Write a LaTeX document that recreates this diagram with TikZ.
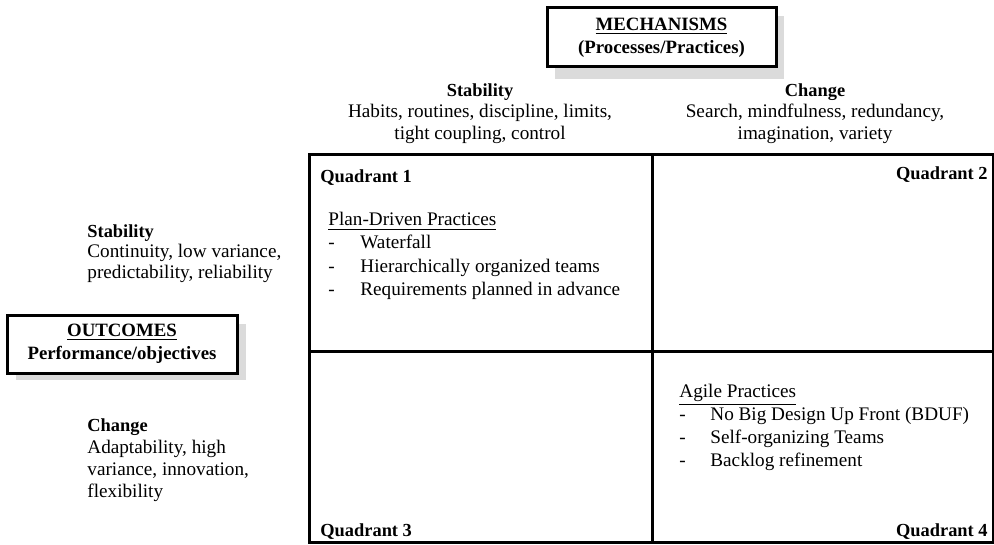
\documentclass[tikz,border=0pt]{standalone}
\usepackage{fontspec}
\setmainfont{Liberation Serif}
\usetikzlibrary{positioning}

\begin{document}
\begin{tikzpicture}[x=0.5pt,y=-0.5pt,
                    txt/.style={font=\fontsize{9.6}{11}\selectfont,inner sep=0pt},
                    head/.style={txt,font=\fontsize{9.2}{11}\selectfont\bfseries,inner sep=0pt},
                    title box/.style={draw,line width=1.5pt,fill=white,align=center,inner sep=0pt,
                                      font=\fontsize{9.4}{11.5}\selectfont\bfseries},
                    grid line/.style={line width=1.5pt}]

          \useasboundingbox (0,0) rectangle (994,545);

          % shadows
          \path[fill=gray!28] (555,16) rectangle (784,79);
          \path[fill=gray!28] (16,324) rectangle (246,380);

          \node[title box,minimum width=114.5pt,minimum height=29.5pt] (mech) at (661.5,37.5)
               {\underline{MECHANISMS}\\(Processes/Practices)};
          \node[title box,minimum width=115pt,minimum height=29pt] (outc) at (122,344)
               {\underline{OUTCOMES}\\Performance/objectives};

          % the grid
          \draw[grid line] (309,155) rectangle (993,542);
          \draw[grid line] (652,155) -- (652,542);
          \draw[grid line] (309,351) -- (993,351);

          % column heads
          \node[head,anchor=base] (cs) at (480,97) {Stability};
          \node[txt,anchor=base] (cs1) at (480,118) {Habits, routines, discipline, limits,};
          \node[txt,anchor=base] (cs2) at (480,140) {tight coupling, control};

          \node[head,anchor=base] (cc) at (815,97) {Change};
          \node[txt,anchor=base] (cc1) at (815,118) {Search, mindfulness, redundancy,};
          \node[txt,anchor=base] (cc2) at (815,140) {imagination, variety};

          % row heads
          \node[head,anchor=base west] (rs) at (87,237) {Stability};
          \node[txt,anchor=base west] (rs1) at (87,257) {Continuity, low variance,};
          \node[txt,anchor=base west] (rs2) at (87,278) {predictability, reliability};

          \node[head,anchor=base west] (rc) at (87,431) {Change};
          \node[txt,anchor=base west] (rc1) at (87,453) {Adaptability, high};
          \node[txt,anchor=base west] (rc2) at (87,475) {variance, innovation,};
          \node[txt,anchor=base west] (rc3) at (87,497) {flexibility};

          % quadrants
          \node[head,anchor=base west] (q1) at (320,183) {Quadrant 1};
          \node[head,anchor=base east] (q2) at (988,180) {Quadrant 2};
          \node[head,anchor=base west] (q3) at (320,536) {Quadrant 3};
          \node[head,anchor=base east] (q4) at (988,536) {Quadrant 4};

          \node[txt,anchor=base west] (plan) at (328,226) {\underline{Plan-Driven Practices}};
          \foreach \t [count=\i] in {Waterfall,Hierarchically organized teams,Requirements planned in advance}
            {
            \node[txt,anchor=base west] (pd\i) at (328,226+23*\i) {-};
            \node[txt,anchor=base west] (p\i) at (360,226+23*\i) {\t};
            }

          \node[txt,anchor=base west] (agile) at (679,397) {\underline{Agile Practices}};
          \foreach \t [count=\i] in {No Big Design Up Front (BDUF),Self-organizing Teams,Backlog refinement}
            {
            \node[txt,anchor=base west] (ad\i) at (679,397+23*\i) {-};
            \node[txt,anchor=base west] (a\i) at (710,397+23*\i) {\t};
            }

        \end{tikzpicture}
\end{document}
